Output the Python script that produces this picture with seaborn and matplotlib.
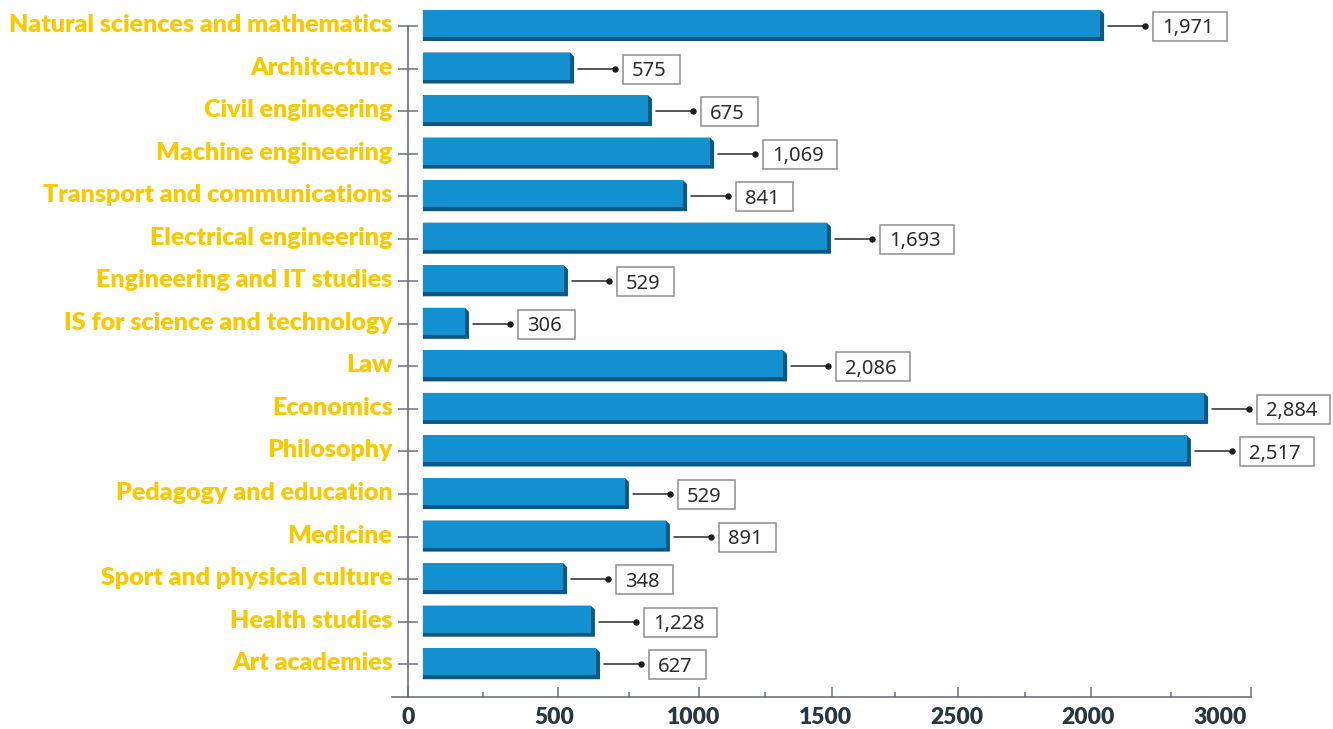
import numpy as np
import pandas as pd
import matplotlib
matplotlib.use("Agg")
import matplotlib.pyplot as plt
import seaborn as sns
from matplotlib.transforms import ScaledTranslation, IdentityTransform
from matplotlib.patches import Polygon, Rectangle
from matplotlib.lines import Line2D

# ---------------- data ----------------
categories = [
    "Natural sciences and mathematics", "Architecture", "Civil engineering",
    "Machine engineering", "Transport and communications", "Electrical engineering",
    "Engineering and IT studies", "IS for science and technology", "Law",
    "Economics", "Philosophy", "Pedagogy and education", "Medicine",
    "Sport and physical culture", "Health studies", "Art academies",
]
bar_values = [2463, 577, 854, 1075, 979, 1491, 555, 203, 1335,
              2833, 2772, 772, 918, 552, 651, 669]
label_values = [1971, 575, 675, 1069, 841, 1693, 529, 306, 2086,
                2884, 2517, 529, 891, 348, 1228, 627]
tick_positions = [0, 534, 1036, 1509, 1957, 2431, 3000]
tick_labels = ["0", "500", "1000", "1500", "2500", "2000", "3000"]
minor_positions = [267, 785, 1272, 1733, 2194, 2715]
tick_label_shift_px = [0, -4, -6, -7, -1, -3, -31]

# ---------------- style ----------------
FACE = "#1290d0"
SHADOW = "#0b5784"
GOLD = "#f9c900"
AXIS = "#6b7079"
DARK = "#27373f"
BASE = 53          # bars start slightly right of the axis line

sns.set_theme(style="ticks")
plt.rcParams["font.family"] = ["Lato", "DejaVu Sans"]

fig = plt.figure(figsize=(13.33, 7.29), dpi=100)
ax = fig.add_axes([0.29407, 0.043896, 0.64441, 0.94966])

df = pd.DataFrame({"category": categories, "value": bar_values})
sns.barplot(data=df, y="category", x="value", orient="h", color=FACE,
            saturation=1, width=0.635, edgecolor="none", linewidth=0,
            zorder=3, ax=ax)

ax.set_xlim(-56.9, 3000)
ax.set_ylim(15.77, -0.5)

px_per_cat = 42.55
for p in ax.patches:
    p.set_x(BASE)
    p.set_width(p.get_width() - BASE)
    p.set_y(p.get_y() - 2.5 / px_per_cat)

# spines
for s in ["top", "right"]:
    ax.spines[s].set_visible(False)
ax.spines["left"].set_position(("data", 0))
ax.spines["left"].set_bounds(0, 15.77)
for s in ["left", "bottom"]:
    ax.spines[s].set_color(AXIS)
    ax.spines[s].set_linewidth(1.2)

ax.set_xlabel("")
ax.set_ylabel("")

# y ticks
ax.set_yticks(range(len(categories)), categories, fontweight="heavy",
              fontsize=18, color=GOLD)
ax.tick_params(axis="y", left=True, direction="inout", length=15, width=1.1,
               color=AXIS, pad=3.5)
for lab in ax.get_yticklabels():
    lab.set_transform(lab.get_transform() +
                      ScaledTranslation(0, 3 / 100, fig.dpi_scale_trans))

# x ticks
ax.set_xticks(tick_positions, tick_labels, fontweight="heavy", fontsize=16.5,
              color=DARK)
ax.set_xticks(minor_positions, minor=True)
ax.tick_params(axis="x", which="major", bottom=True, direction="in",
               length=7.2, width=1.1, color=AXIS, pad=7)
ax.tick_params(axis="x", which="minor", bottom=True, direction="in",
               length=3.6, width=1.1, color=AXIS)
for lab, dx in zip(ax.get_xticklabels(), tick_label_shift_px):
    lab.set_transform(lab.get_transform() +
                      ScaledTranslation(dx / 100, 0, fig.dpi_scale_trans))

fig.canvas.draw()
renderer = fig.canvas.get_renderer()
ident = IdentityTransform()

# 3D shadows behind each bar
for p in ax.patches[:]:
    (xl, yb), (xr, yt) = ax.transData.transform(
        [(p.get_x(), p.get_y() + p.get_height()), (p.get_x() + p.get_width(), p.get_y())])
    poly = Polygon([(xl, yb - 4), (xr + 4, yb - 4), (xr + 4, yt - 4),
                    (xr, yt), (xl, yt)], closed=True, facecolor=SHADOW,
                   edgecolor="none", transform=ident, zorder=2, clip_on=False)
    ax.add_artist(poly)

# leader lines + boxed value labels
for i, (v, lab) in enumerate(zip(bar_values, label_values)):
    xr, yc = ax.transData.transform((v, i))
    ax.add_artist(Line2D([xr + 8, xr + 45], [yc, yc], color="#2a2a2a",
                         linewidth=1.1, transform=ident, clip_on=False, zorder=4))
    ax.add_artist(Line2D([xr + 45], [yc], marker="o", markersize=3.6,
                         color="#1e1e1e", transform=ident, clip_on=False, zorder=4))
    t = ax.text(xr + 62, yc - 7.5, f"{lab:,}", ha="left", va="baseline",
                fontsize=14.5, color="#2b2b2b", family=["Noto Sans", "DejaVu Sans"],
                transform=ident, clip_on=False, zorder=6)
    w = t.get_window_extent(renderer=renderer).width
    ax.add_artist(Rectangle((xr + 53, yc - 15), w + 22, 29, facecolor="white",
                            edgecolor="#8e8e8e", linewidth=1.1,
                            transform=ident, clip_on=False, zorder=5))

fig.savefig("out.png", dpi=100)
